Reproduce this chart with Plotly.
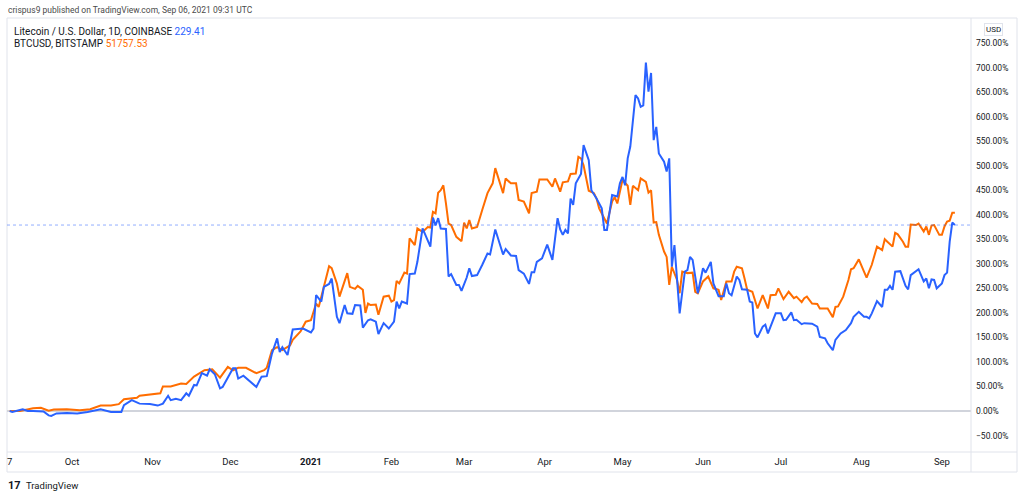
import pandas as pd
import plotly.graph_objects as go

# % change since 2020-09-07
start_date = "2020-09-07"

btc_day = [
    0, 4, 9, 12, 15, 17, 22, 27, 31, 35,
    39, 42, 44, 49, 50, 55, 58, 59, 62, 66,
    68, 71, 73, 75, 78, 81, 84, 86, 88, 91,
    95, 98, 99, 101, 103, 105, 108, 109, 112, 114,
    116, 118, 119, 121, 123, 124, 126, 127, 130, 131,
    133, 134, 136, 137, 138, 139, 141, 142, 144, 146,
    147, 148, 149, 150, 152, 153, 154, 156, 157, 159,
    161, 162, 163, 164, 165, 166, 167, 168, 169, 170,
    172, 174, 175, 176, 177, 178, 180, 182, 184, 186,
    187, 190, 191, 193, 195, 196, 198, 200, 201, 203,
    204, 207, 209, 210, 212, 213, 215, 216, 218, 219,
    220, 221, 223, 225, 226, 227, 229, 230, 232, 233,
    234, 236, 238, 239, 240, 242, 243, 245, 246, 247,
    248, 249, 250, 252, 253, 254, 255, 257, 258, 259,
    261, 263, 264, 265, 267, 269, 271, 273, 274, 276,
    278, 279, 280, 282, 283, 284, 286, 288, 290, 292,
    293, 295, 296, 298, 300, 302, 303, 305, 306, 307,
    309, 311, 312, 315, 317, 318, 319, 321, 323, 324,
    325, 327, 329, 330, 332, 334, 336, 337, 338, 340,
    341, 342, 344, 345, 346, 347, 349, 350, 352, 353,
    354, 355, 356, 358, 359, 360, 361, 362, 363, 364,
]
btc_pct = [
    0, 0, 5.5, 6.5, 0.5, 3, 3.5, 1.5, 3.5, 11,
    11, 14, 24, 27, 31, 34, 36, 50, 50, 56,
    55, 70, 77, 83, 85, 68, 90, 83, 88, 88,
    77, 83, 88, 124, 130, 124, 134, 145, 162, 182,
    185, 219, 212, 253, 295, 291, 260, 233, 281, 253,
    249, 255, 247, 200, 219, 216, 217, 196, 233, 235,
    223, 226, 265, 260, 282, 280, 352, 338, 372, 365,
    375, 374, 406, 403, 445, 450, 460, 423, 382, 379,
    355, 346, 384, 372, 389, 372, 375, 410, 444, 464,
    495, 444, 474, 464, 464, 430, 427, 403, 444, 447,
    472, 472, 457, 474, 447, 466, 468, 483, 484, 518,
    515, 501, 449, 444, 433, 413, 393, 382, 427, 436,
    423, 471, 459, 420, 459, 450, 474, 467, 445, 450,
    384, 385, 359, 325, 314, 257, 294, 267, 240, 284,
    281, 282, 243, 240, 264, 274, 250, 247, 226, 264,
    264, 284, 294, 291, 270, 247, 243, 209, 236, 209,
    236, 237, 250, 228, 243, 230, 233, 222, 230, 233,
    219, 218, 209, 209, 191, 212, 213, 233, 267, 289,
    291, 309, 284, 272, 298, 335, 328, 350, 345, 335,
    363, 360, 345, 335, 335, 380, 379, 382, 366, 376,
    359, 378, 379, 359, 359, 376, 386, 388, 404, 404,
]

ltc_day = [
    0, 1, 5, 7, 9, 13, 15, 16, 18, 22,
    26, 30, 35, 39, 43, 44, 47, 50, 54, 57,
    59, 61, 62, 64, 66, 68, 69, 71, 72, 74,
    76, 77, 79, 81, 82, 85, 86, 87, 88, 90,
    92, 95, 97, 99, 101, 103, 104, 105, 107, 109,
    113, 115, 116, 117, 118, 120, 121, 123, 124, 126,
    127, 129, 130, 132, 133, 135, 136, 138, 139, 141,
    142, 144, 146, 148, 149, 150, 151, 153, 154, 156,
    157, 159, 161, 162, 163, 164, 165, 166, 168, 169,
    170, 172, 173, 174, 176, 177, 178, 180, 182, 184,
    185, 187, 190, 191, 193, 195, 196, 198, 200, 201,
    202, 203, 205, 207, 209, 210, 211, 212, 213, 214,
    215, 216, 217, 218, 220, 221, 223, 224, 225, 226,
    228, 229, 230, 232, 234, 235, 236, 237, 238, 239,
    241, 242, 243, 244, 245, 246, 247, 248, 249, 250,
    252, 253, 254, 255, 256, 257, 258, 260, 261, 262,
    263, 265, 267, 268, 270, 271, 273, 275, 276, 277,
    278, 280, 281, 282, 284, 285, 286, 287, 288, 290,
    291, 292, 293, 295, 297, 298, 299, 301, 302, 303,
    305, 306, 309, 311, 312, 314, 315, 317, 318, 320,
    322, 324, 325, 327, 329, 330, 331, 332, 334, 336,
    337, 338, 339, 340, 341, 343, 345, 346, 347, 349,
    350, 352, 353, 354, 355, 356, 357, 359, 360, 361,
    362, 363, 364,
]
ltc_pct = [
    0, -2, 3.5, 0, 0, -1, -9, -10, -5, -4,
    -5, -2, 3.5, -2, -2, 12, 22, 15, 14, 11,
    15, 31, 22, 25, 22, 36, 31, 53, 52, 77,
    72, 85, 75, 46, 49, 77, 87, 87, 66, 72,
    62, 49, 70, 71, 117, 148, 120, 130, 114, 166,
    168, 162, 160, 168, 236, 223, 253, 259, 270, 192,
    179, 216, 199, 198, 216, 215, 170, 185, 187, 182,
    157, 179, 168, 182, 223, 209, 223, 219, 279, 280,
    304, 372, 345, 335, 394, 378, 393, 372, 371, 274,
    279, 257, 257, 245, 272, 291, 275, 277, 298, 321,
    319, 370, 319, 330, 317, 316, 287, 280, 259, 283,
    283, 304, 311, 339, 308, 355, 393, 370, 359, 369,
    362, 433, 420, 464, 483, 542, 511, 450, 442, 433,
    413, 369, 369, 440, 437, 464, 477, 460, 515, 539,
    644, 637, 620, 623, 710, 651, 689, 552, 579, 525,
    508, 488, 515, 294, 338, 267, 199, 284, 287, 314,
    308, 240, 291, 282, 304, 260, 234, 234, 260, 240,
    236, 274, 267, 248, 247, 223, 221, 158, 150, 172,
    176, 158, 172, 199, 199, 185, 186, 201, 185, 186,
    177, 179, 178, 172, 151, 148, 138, 124, 145, 158,
    165, 179, 192, 202, 192, 192, 189, 199, 224, 212,
    247, 247, 255, 247, 284, 285, 255, 248, 277, 284,
    289, 264, 270, 250, 268, 267, 250, 260, 277, 282,
    345, 384, 379,
]

month_ticks = ["2020-09-07", "2020-10-01", "2020-11-01", "2020-12-01", "2021-01-01",
               "2021-02-01", "2021-03-01", "2021-04-01", "2021-05-01", "2021-06-01",
               "2021-07-01", "2021-08-01", "2021-09-01"]
month_labels = ["7", "Oct", "Nov", "Dec", "<b>2021</b>", "Feb", "Mar", "Apr", "May",
                "Jun", "Jul", "Aug", "Sep"]
pct_ticks = list(range(-50, 800, 50))
pct_labels = [f"{v:.2f}%".replace("-", "\u2212") for v in pct_ticks]

LTC_BLUE = "#2962ff"
BTC_ORANGE = "#ff6d00"
BORDER = "#e0e3eb"
TEXT = "#131722"
FONT = "Roboto"

base = pd.Timestamp(start_date)
btc_x = base + pd.to_timedelta(btc_day, unit="D")
ltc_x = base + pd.to_timedelta(ltc_day, unit="D")


def px(x):
    # page pixel -> paper x (plot area spans 7..971)
    return (x - 7) / 964


def py(y):
    # page pixel -> paper y (plot area spans 18..452)
    return (452 - y) / 434


fig = go.Figure()
fig.add_trace(go.Scatter(x=btc_x, y=btc_pct, mode="lines", name="BTCUSD",
                         line=dict(color=BTC_ORANGE, width=2)))
fig.add_trace(go.Scatter(x=ltc_x, y=ltc_pct, mode="lines", name="Litecoin",
                         line=dict(color=LTC_BLUE, width=2)))

# dotted marker of the last Litecoin value
fig.add_shape(type="line", xref="paper", x0=0, x1=1, yref="y",
              y0=ltc_pct[-1], y1=ltc_pct[-1],
              line=dict(color=LTC_BLUE, width=1, dash="dot"), opacity=0.5)

# chart frame
fig.add_shape(type="rect", xref="paper", yref="paper", x0=0, x1=px(1017),
              y0=py(472), y1=1, line=dict(color=BORDER, width=1), layer="below")
fig.add_shape(type="line", xref="paper", yref="paper", x0=1, x1=1,
              y0=py(472), y1=1, line=dict(color=BORDER, width=1))
fig.add_shape(type="line", xref="paper", yref="paper", x0=0, x1=px(1017),
              y0=0, y1=0, line=dict(color=BORDER, width=1))

annotations = [
    dict(text="crispus9 published on TradingView.com, Sep 06, 2021 09:31 UTC",
         x=px(6), y=py(10), size=8.5, color="#4a4a4a"),
    dict(text="Litecoin / U.S. Dollar, 1D, COINBASE "
              f"<span style='color:{LTC_BLUE}'>229.41</span>",
         x=px(12), y=py(31), size=10, color=TEXT),
    dict(text=f"BTCUSD, BITSTAMP <span style='color:{BTC_ORANGE}'>51757.53</span>",
         x=px(12), y=py(44), size=10, color=TEXT),
    dict(text="<b>17</b>", x=px(6), y=py(485), size=11, color=TEXT),
    dict(text="TradingView", x=px(24), y=py(485), size=9.5, color=TEXT),
]
for a in annotations:
    fig.add_annotation(text=a["text"], x=a["x"], y=a["y"], xref="paper", yref="paper",
                       xanchor="left", yanchor="middle", showarrow=False,
                       font=dict(family=FONT, size=a["size"], color=a["color"]))

fig.add_annotation(text="USD", x=px(993.5), y=py(30), xref="paper", yref="paper",
                   xanchor="center", yanchor="middle", showarrow=False,
                   font=dict(family=FONT, size=8, color=TEXT),
                   bordercolor=BORDER, borderwidth=1, borderpad=1)

fig.update_layout(
    width=1024, height=497, autosize=False,
    margin=dict(l=7, r=53, t=18, b=45),
    paper_bgcolor="white", plot_bgcolor="white",
    showlegend=False,
    font=dict(family=FONT, size=9, color=TEXT),
    xaxis=dict(
        type="date",
        range=["2020-09-05 23:00", "2021-09-12 05:00"],
        tickvals=month_ticks, ticktext=month_labels,
        showgrid=False, zeroline=False, showline=False,
        ticks="", tickfont=dict(size=9.5, color=TEXT),
        ticklabelstandoff=2,
    ),
    yaxis=dict(
        side="right",
        range=[-83.6, 801],
        tickvals=pct_ticks, ticktext=pct_labels,
        showgrid=False, showline=False, automargin=False,
        zeroline=True, zerolinecolor="#d1d4dc", zerolinewidth=1.5,
        ticks="", tickfont=dict(size=8.5, color=TEXT),
        ticklabelstandoff=4,
    ),
)

# the page body has a default 8px margin; drop it so the chart sits at 0,0
fig.write_html("out.html", config={"displayModeBar": False},
               post_script="document.body.style.margin='0';")
